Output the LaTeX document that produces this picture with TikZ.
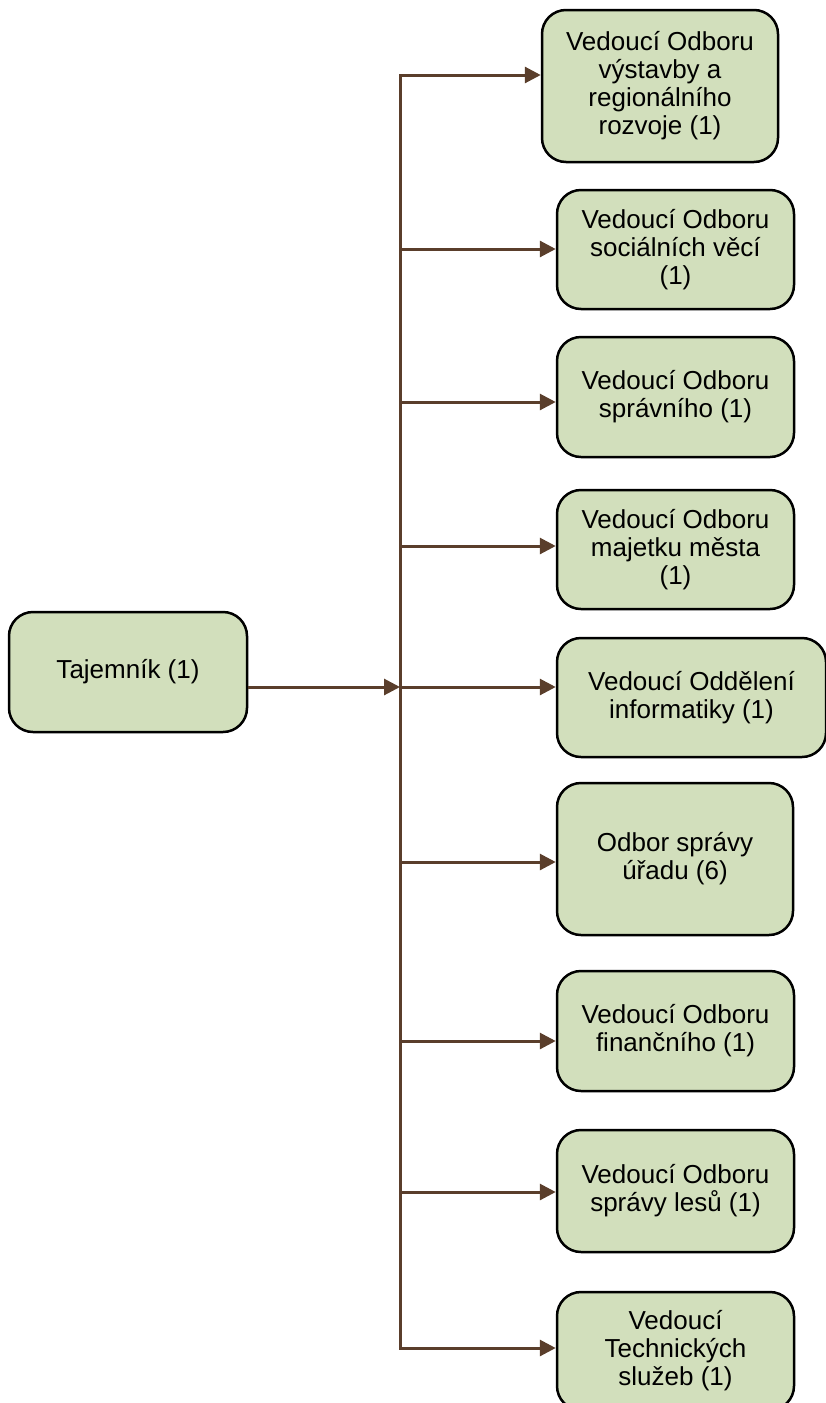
\documentclass[tikz,border=0pt]{standalone}
\usepackage{fontspec}
\setmainfont{Liberation Sans}
\usetikzlibrary{arrows.meta}
\definecolor{boxfill}{HTML}{D2DFBC}
\definecolor{linebrown}{HTML}{5A3E2B}
\tikzset{
  unitbox/.style={draw=black, line width=2.5pt, fill=boxfill, rounded corners=24pt,
    align=center, inner sep=0pt, font=\fontsize{26}{28}\selectfont},
  conn/.style={draw=linebrown, line width=3pt, -{Triangle[length=16pt,width=16pt]}},
  trunkline/.style={draw=linebrown, line width=3pt, line cap=rect}
}

\begin{document}
\begin{tikzpicture}[x=1pt,y=-1pt]
  \useasboundingbox (0,0) rectangle (826,1403);
  \clip (0,0) rectangle (826,1403);

  % head of the office
  \node[unitbox, minimum width=238pt, minimum height=120pt] (taj) at (128,672) {Tajemník (1)};

  % departments
  \node[unitbox, minimum width=236pt, minimum height=152pt] (vyst) at (660,86)
    {Vedoucí Odboru\\výstavby a\\regionálního\\rozvoje (1)};
  \node[unitbox, minimum width=237pt, minimum height=119pt] (soc) at (675.5,249.5)
    {Vedoucí Odboru\\sociálních věcí\\(1)};
  \node[unitbox, minimum width=237pt, minimum height=120pt] (sprav) at (675.5,397)
    {Vedoucí Odboru\\správního (1)};
  \node[unitbox, minimum width=237pt, minimum height=119pt] (maj) at (675.5,549.5)
    {Vedoucí Odboru\\majetku města\\(1)};
  \node[unitbox, minimum width=269pt, minimum height=119pt] (inf) at (691.5,697.5)
    {Vedoucí Oddělení\\informatiky (1)};
  \node[unitbox, minimum width=236pt, minimum height=152pt] (urad) at (675,859)
    {Odbor správy\\úřadu (6)};
  \node[unitbox, minimum width=237pt, minimum height=120pt] (fin) at (675.5,1031)
    {Vedoucí Odboru\\finančního (1)};
  \node[unitbox, minimum width=237pt, minimum height=122pt] (les) at (675.5,1191)
    {Vedoucí Odboru\\správy lesů (1)};
  \node[unitbox, minimum width=237pt, minimum height=118pt] (tech) at (675.5,1351)
    {Vedoucí\\Technických\\služeb (1)};

  % points on the trunk
  \coordinate (t1) at (400,75);
  \coordinate (t2) at (400,249);
  \coordinate (t3) at (400,402);
  \coordinate (t4) at (400,546);
  \coordinate (t5) at (400,687);
  \coordinate (t6) at (400,862);
  \coordinate (t7) at (400,1041);
  \coordinate (t8) at (400,1192);
  \coordinate (t9) at (400,1348);

  \draw[trunkline] (t1) -- (t9);
  \draw[conn] (taj.east |- t5) -- (t5);
  \foreach \t/\b in {t1/vyst, t2/soc, t3/sprav, t4/maj, t5/inf, t6/urad, t7/fin, t8/les, t9/tech}
    \draw[conn] (\t) -- (\t -| \b.west);
\end{tikzpicture}
\end{document}
